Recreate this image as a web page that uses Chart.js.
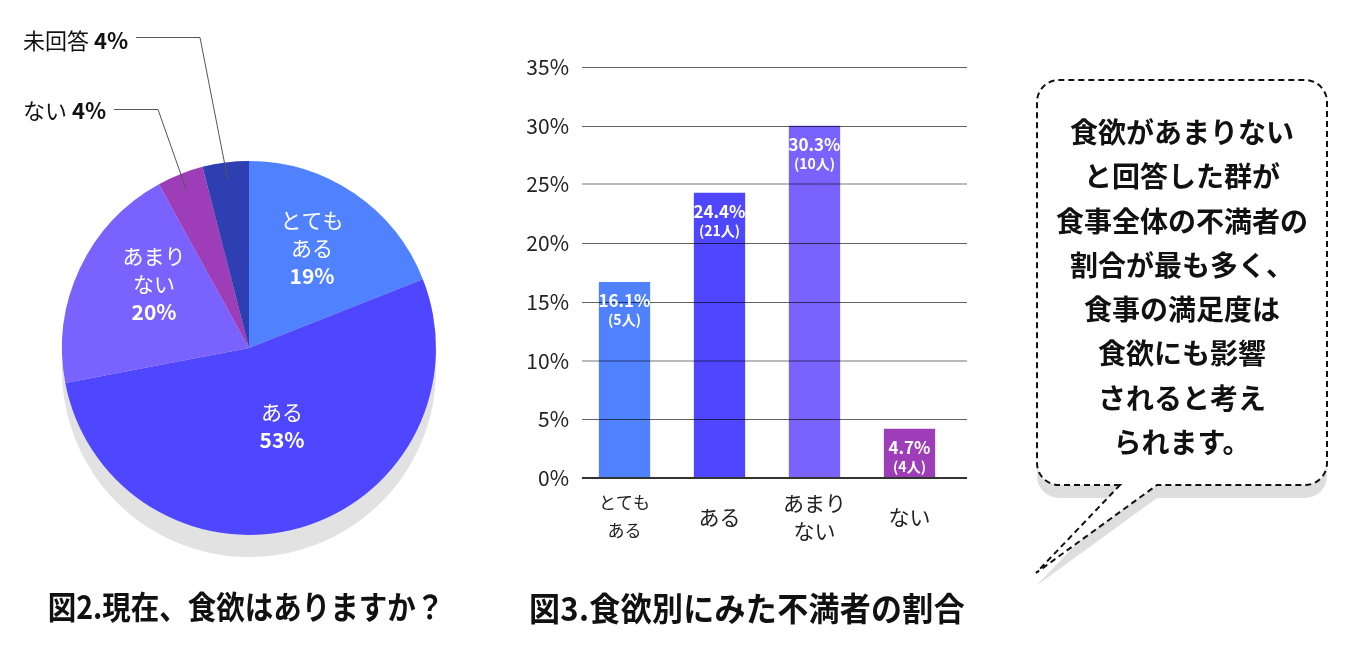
<!DOCTYPE html>
<html><head><meta charset="utf-8">
<script src="https://cdn.jsdelivr.net/npm/chart.js@4/dist/chart.umd.min.js"></script>
<style>
html,body{margin:0;padding:0;background:#fff;width:1360px;height:653px;overflow:hidden;font-family:"Noto Sans CJK JP",sans-serif;}
#pieCanvas{position:absolute;left:0;top:0;}
#barCanvas{position:absolute;left:500px;top:0;}
#bubble{position:absolute;left:0;top:0;}
.title{position:absolute;font-weight:700;line-height:44px;white-space:nowrap;color:#111;text-align:center;}
#bubbleText{position:absolute;left:1037px;top:109px;width:290px;text-align:center;font-weight:700;font-size:28px;line-height:44.3px;color:#111;}
</style></head>
<body>
<canvas id="pieCanvas" width="500" height="580"></canvas>
<canvas id="barCanvas" width="500" height="580"></canvas>
<svg id="bubble" width="1360" height="653">
  <path transform="translate(0,13)" fill="#dedede" d="M1120 485 L1059 485 A22 22 0 0 1 1037 463 L1037 102 A22 22 0 0 1 1059 80 L1305 80 A22 22 0 0 1 1327 102 L1327 463 A22 22 0 0 1 1305 485 L1157 485 L1036 573 Z"/>
  <path fill="#fff" stroke="#111" stroke-width="2" stroke-dasharray="6 4" d="M1120 485 L1059 485 A22 22 0 0 1 1037 463 L1037 102 A22 22 0 0 1 1059 80 L1305 80 A22 22 0 0 1 1327 102 L1327 463 A22 22 0 0 1 1305 485 L1157 485 L1036 573 Z"/>
</svg>
<div id="bubbleText">食欲があまりない<br>と回答した群が<br>食事全体の不満者の<br>割合が最も多く、<br>食事の満足度は<br>食欲にも影響<br>されると考え<br>られます。</div>
<div class="title" style="left:46px;width:400px;top:584px;font-size:28.5px;transform:scaleY(1.12);">図2.現在、食欲はありますか？</div>
<div class="title" style="left:522px;width:450px;top:585px;font-size:31px;letter-spacing:0.3px;transform:scaleY(1.05);">図3.食欲別にみた不満者の割合</div>
<script>
// ---- data ----
const pieLabels = ['とてもある', 'ある', 'あまりない', 'ない', '未回答'];
const pieValues = [19, 53, 20, 4, 4];
const pieInnerLines = [['とても', 'ある'], ['ある'], ['あまり', 'ない'], null, null];
const pieOuterNames = [null, null, null, 'ない', '未回答'];

const barCategories = [['とても', 'ある'], 'ある', ['あまり', 'ない'], 'ない'];
const barValues = [16.7, 24.3, 30.0, 4.2];
const barPctLabels = ['16.1%', '24.4%', '30.3%', '4.7%'];
const barCountLabels = ['(5人)', '(21人)', '(10人)', '(4人)'];
const yTickValues = [0, 5, 10, 15, 20, 25, 30, 35];

// ---- styles ----
const FONT = '"Noto Sans CJK JP", sans-serif';
const pieColors = ['#5082ff', '#4f47ff', '#7a62ff', '#9d3eb8', '#2e3fb2'];
const barColors = ['#5082ff', '#4f47ff', '#7a62ff', '#9d3eb8'];
const innerOffsets = [[63, -100], [33, 78], [-95, -64], null, null];
const outerLayout = [null, null, null, {tx: 23, ty: 111, ly: 109, ex: 158}, {tx: 23, ty: 41, ly: 37, ex: 200}];

const pieDecor = {
  id: 'pieDecor',
  beforeDatasetsDraw(chart) {
    const a = chart.getDatasetMeta(0).data[0];
    const ctx = chart.ctx;
    ctx.save();
    ctx.fillStyle = '#e2e2e2';
    ctx.beginPath();
    ctx.arc(a.x, a.y + 22, a.outerRadius, 0, Math.PI * 2);
    ctx.fill();
    ctx.restore();
  },
  afterDatasetsDraw(chart) {
    const ctx = chart.ctx;
    const meta = chart.getDatasetMeta(0);
    ctx.save();
    meta.data.forEach((arc, i) => {
      const lines = pieInnerLines[i];
      if (lines) {
        const off = innerOffsets[i];
        const all = lines.length + 1;
        const lh = 28;
        const cx = arc.x + off[0], cy = arc.y + off[1];
        ctx.fillStyle = '#fff';
        ctx.textAlign = 'center';
        ctx.textBaseline = 'middle';
        lines.forEach((t, k) => {
          ctx.font = '400 21px ' + FONT;
          ctx.fillText(t, cx, cy + (k - (all - 1) / 2) * lh);
        });
        ctx.font = '700 21px ' + FONT;
        ctx.fillText(pieValues[i] + '%', cx, cy + ((all - 1) / 2) * lh);
      }
      const name = pieOuterNames[i];
      if (name) {
        const L = outerLayout[i];
        ctx.fillStyle = '#111';
        ctx.textAlign = 'left';
        ctx.textBaseline = 'middle';
        ctx.font = '400 22px ' + FONT;
        ctx.fillText(name, L.tx, L.ty);
        const w1 = ctx.measureText(name + ' ').width;
        ctx.font = '700 22px ' + FONT;
        const pct = pieValues[i] + '%';
        ctx.fillText(pct, L.tx + w1, L.ty);
        const end = L.tx + w1 + ctx.measureText(pct).width + 8;
        const mid = (arc.startAngle + arc.endAngle) / 2;
        const r = arc.outerRadius * 0.91;
        ctx.strokeStyle = '#555';
        ctx.lineWidth = 1;
        ctx.beginPath();
        ctx.moveTo(end, L.ly + 0.5);
        ctx.lineTo(L.ex, L.ly + 0.5);
        ctx.lineTo(arc.x + Math.cos(mid) * r, arc.y + Math.sin(mid) * r);
        ctx.stroke();
      }
    });
    ctx.restore();
  }
};

new Chart(document.getElementById('pieCanvas'), {
  type: 'pie',
  data: {labels: pieLabels, datasets: [{data: pieValues, backgroundColor: pieColors, borderWidth: 0}]},
  options: {
    responsive: false, animation: false,
    layout: {padding: {left: 62, right: 64, top: 161, bottom: 45}},
    plugins: {legend: {display: false}, tooltip: {enabled: false}}
  },
  plugins: [pieDecor]
});

const barDecor = {
  id: 'barDecor',
  afterDatasetsDraw(chart) {
    const {ctx, chartArea, scales: {y}} = chart;
    const x0 = chartArea.left + 5, x1 = chartArea.right + 10;
    ctx.save();
    yTickValues.forEach(v => {
      const py = y.getPixelForValue(v);
      let color, w;
      if (v === 0) { color = '#333'; w = 2; }
      else if (v === 10 || v === 25) { color = 'rgba(0,0,0,0.27)'; w = 2; }
      else { color = 'rgba(0,0,0,0.62)'; w = 1; }
      ctx.strokeStyle = color;
      ctx.lineWidth = w;
      const yy = w === 1 ? Math.round(py) + 0.5 : Math.round(py);
      ctx.beginPath();
      ctx.moveTo(x0, yy);
      ctx.lineTo(x1, yy);
      ctx.stroke();
    });
    const meta = chart.getDatasetMeta(0);
    ctx.fillStyle = '#fff';
    ctx.textAlign = 'center';
    ctx.textBaseline = 'middle';
    meta.data.forEach((bar, i) => {
      ctx.font = '700 17px ' + FONT;
      ctx.fillText(barPctLabels[i], bar.x, bar.y + 19);
      ctx.font = '700 14px ' + FONT;
      ctx.fillText(barCountLabels[i], bar.x, bar.y + 38);
    });
    ctx.restore();
  }
};

new Chart(document.getElementById('barCanvas'), {
  type: 'bar',
  data: {labels: barCategories, datasets: [{data: barValues, backgroundColor: barColors, borderWidth: 0, categoryPercentage: 1, barPercentage: 0.54}]},
  options: {
    responsive: false, animation: false,
    layout: {padding: {left: 0, right: 43, top: 67, bottom: 0}},
    plugins: {legend: {display: false}, tooltip: {enabled: false}},
    scales: {
      x: {
        grid: {display: false, drawTicks: false}, border: {display: false},
        ticks: {
          color: '#222', padding: 25, crossAlign: 'center', maxRotation: 0, autoSkip: false,
          font: (c) => ({family: FONT, size: c.index === 0 ? 17 : 21, lineHeight: '28px'})
        },
        afterFit(s) { s.height = 102; }
      },
      y: {
        min: 0, max: 35,
        grid: {display: false, drawTicks: false}, border: {display: false},
        ticks: {stepSize: 5, callback: v => v + '%', color: '#222', font: {family: FONT, size: 21}, padding: 8},
        afterFit(s) { s.width = 77; }
      }
    }
  },
  plugins: [barDecor]
});
</script>
</body></html>
